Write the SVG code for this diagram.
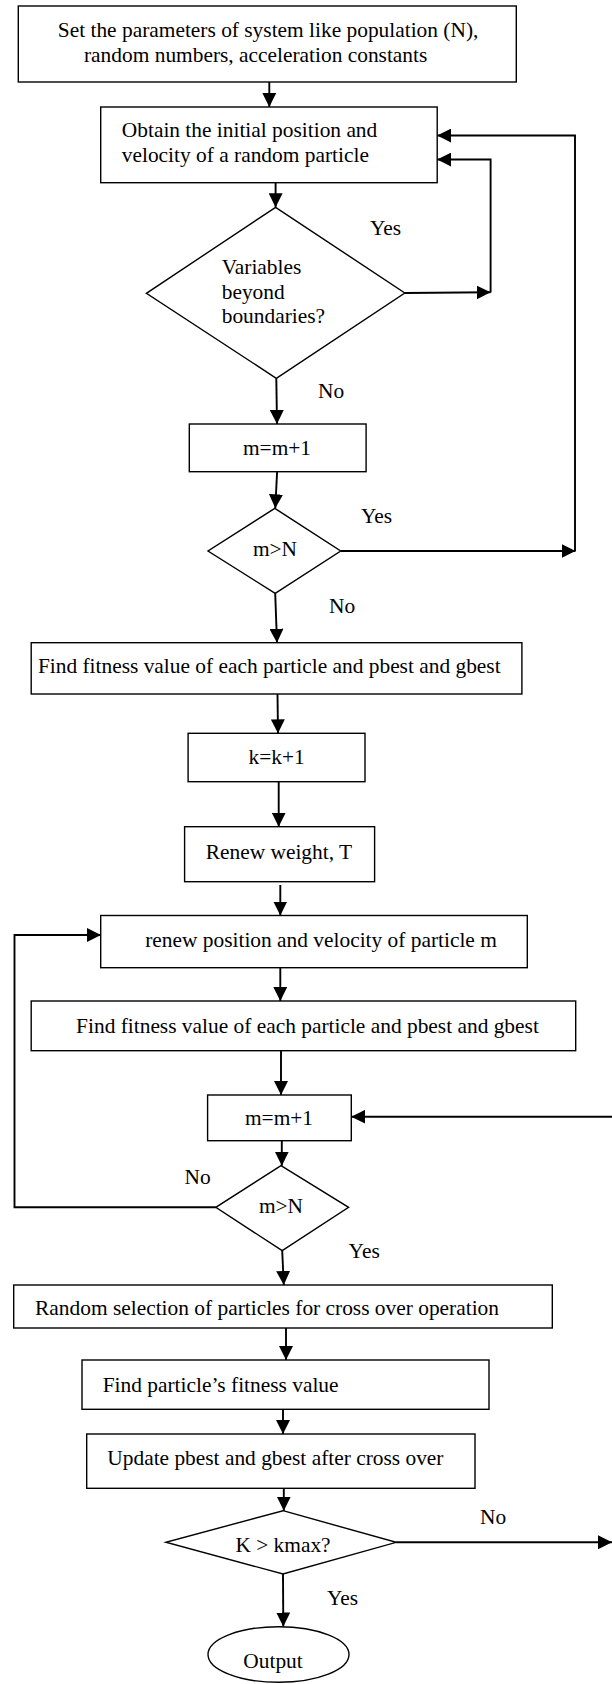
<svg xmlns="http://www.w3.org/2000/svg" width="612" height="1684" viewBox="0 0 612 1684">
<style>
.n{fill:#fff;stroke:#000;stroke-width:1.4}
.t{font-family:"Liberation Serif","Times New Roman",serif;font-size:21.4px;fill:#000}
.c{text-anchor:middle}
.e{fill:none;stroke:#000;stroke-width:1.9}
.a{marker-end:url(#ah)}
</style>
<defs>
<marker id="ah" markerUnits="userSpaceOnUse" markerWidth="14" markerHeight="14" refX="14" refY="7" orient="auto" viewBox="0 0 14 14">
<path d="M0,0 L14,7 L0,14 z" fill="#000"/>
</marker>
</defs>
<rect width="612" height="1684" fill="#fff"/>
<g id="connectors">
<path class="e a" d="M269.3,82 V107"/>
<path class="e a" d="M275.6,182.7 V207.3"/>
<path class="e a" d="M404.8,293 L490.6,292.3"/>
<path class="e a" d="M490.6,292.5 V159.5 H437.2"/>
<path class="e a" d="M340.7,551 H575.5"/>
<path class="e a" d="M575,551 V135.5 H437.2"/>
<path class="e a" d="M276.3,378.3 L277,424"/>
<path class="e a" d="M277.1,471.7 L275.3,508.3"/>
<path class="e a" d="M275.2,593.3 L277,642.7"/>
<path class="e a" d="M277.5,694 L278,733.3"/>
<path class="e a" d="M278.7,781.7 V826.7"/>
<path class="e a" d="M280.3,885 V915.5"/>
<path class="e a" d="M280.3,967.7 V1001"/>
<path class="e a" d="M281,1050.7 V1095"/>
<path class="e a" d="M612,1116.7 H351.3"/>
<path class="e a" d="M281.8,1140.7 V1165.7"/>
<path class="e a" d="M215.8,1207.3 H14.5 V935 H101"/>
<path class="e a" d="M282.2,1250.7 L283.8,1285"/>
<path class="e a" d="M286,1328 V1360"/>
<path class="e a" d="M283,1409.3 V1434"/>
<path class="e a" d="M283.8,1488.3 V1510.7"/>
<path class="e a" d="M396.2,1542.3 H612"/>
<path class="e a" d="M283,1574 L283.3,1626.5"/>
</g>
<g id="n1"><rect class="n" x="18.3" y="6" width="498" height="76"/>
<text class="t" x="57.8" y="36.7">Set the parameters of system like population (N),</text>
<text class="t" x="84" y="61.7">random numbers, acceleration constants</text></g>
<g id="n2"><rect class="n" x="100.7" y="107" width="336.5" height="75.7"/>
<text class="t" x="121.8" y="136.7">Obtain the initial position and</text>
<text class="t" x="121.8" y="161.7">velocity of a random particle</text></g>
<g id="d1"><polygon class="n" points="275.6,207.3 404.8,293 276.3,378.3 146.4,293.3"/>
<text class="t" x="221.7" y="274">Variables</text>
<text class="t" x="221.7" y="299">beyond</text>
<text class="t" x="221.7" y="323.3">boundaries?</text></g>
<g id="n3"><rect class="n" x="189.3" y="424" width="176.8" height="47.7"/>
<text class="t c" x="277" y="455">m=m+1</text></g>
<g id="d2"><polygon class="n" points="274.8,508.3 340.7,551 275.2,593.3 208,551"/>
<text class="t c" x="275" y="556">m&gt;N</text></g>
<g id="n4"><rect class="n" x="31.2" y="642.7" width="490.7" height="51.3"/>
<text class="t" x="37.9" y="673.3">Find fitness value of each particle and pbest and gbest</text></g>
<g id="n5"><rect class="n" x="188.1" y="733.3" width="176.9" height="48.4"/>
<text class="t c" x="276.7" y="764.3">k=k+1</text></g>
<g id="n6"><rect class="n" x="184.6" y="826.7" width="190" height="55"/>
<text class="t" x="205.7" y="859.3">Renew weight, T</text></g>
<g id="n7"><rect class="n" x="100.7" y="915.5" width="426.6" height="52.2"/>
<text class="t" x="145.2" y="946.7">renew position and velocity of particle m</text></g>
<g id="n8"><rect class="n" x="31.2" y="1001" width="544.5" height="49.7"/>
<text class="t" x="76.1" y="1033.3">Find fitness value of each particle and pbest and gbest</text></g>
<g id="n9"><rect class="n" x="207.6" y="1095" width="143.7" height="45.7"/>
<text class="t c" x="279" y="1125">m=m+1</text></g>
<g id="d3"><polygon class="n" points="281,1165.7 348.6,1207.3 282.2,1250.7 215.8,1207.3"/>
<text class="t c" x="281" y="1213">m&gt;N</text></g>
<g id="n10"><rect class="n" x="13.7" y="1285" width="538.6" height="43"/>
<text class="t" x="35.1" y="1315">Random selection of particles for cross over operation</text></g>
<g id="n11"><rect class="n" x="82" y="1360" width="407" height="49.3"/>
<text class="t" x="102.7" y="1391.7">Find particle’s fitness value</text></g>
<g id="n12"><rect class="n" x="86.7" y="1434" width="388.3" height="54.3"/>
<text class="t" x="107.3" y="1465">Update pbest and gbest after cross over</text></g>
<g id="d4"><polygon class="n" points="283,1510.7 396.2,1542.3 283,1574 165.9,1542.3"/>
<text class="t" x="235.4" y="1551.7">K &gt; kmax?</text></g>
<g id="n13"><ellipse class="n" cx="278.5" cy="1654.5" rx="70.5" ry="27.8"/>
<text class="t" x="243.3" y="1667.7">Output</text></g>
<g id="labels">
<text class="t" x="370" y="235">Yes</text>
<text class="t" x="318" y="398">No</text>
<text class="t" x="361" y="522.7">Yes</text>
<text class="t" x="329" y="613.3">No</text>
<text class="t" x="184.6" y="1184">No</text>
<text class="t" x="348.6" y="1258.3">Yes</text>
<text class="t" x="480" y="1524">No</text>
<text class="t" x="327" y="1605">Yes</text>
</g>
</svg>
